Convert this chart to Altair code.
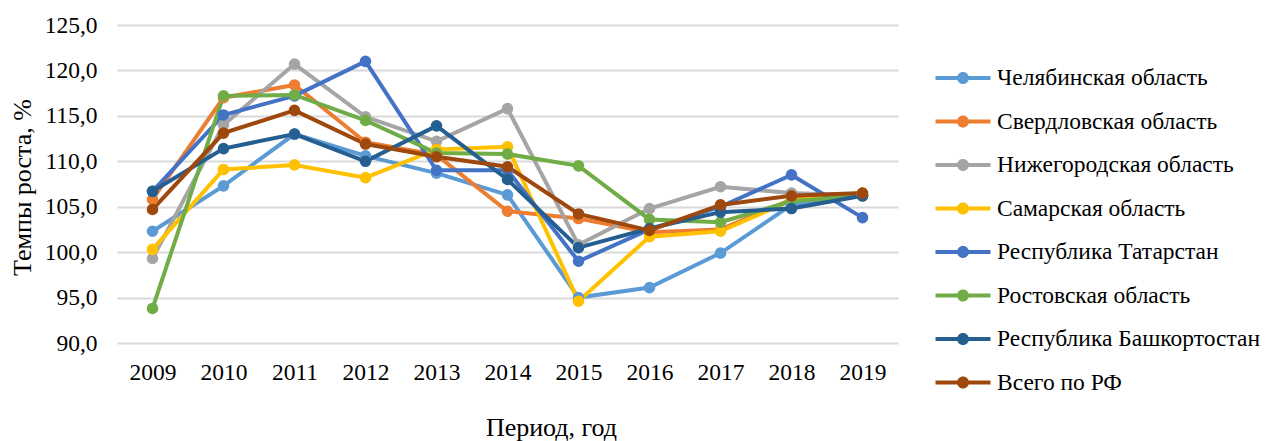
import altair as alt
import pandas as pd

years = ["2009", "2010", "2011", "2012", "2013", "2014", "2015", "2016", "2017", "2018", "2019"]
series = [
    "Челябинская область",
    "Свердловская область",
    "Нижегородская область",
    "Самарская область",
    "Республика Татарстан",
    "Ростовская область",
    "Республика Башкортостан",
    "Всего по РФ",
]
colors = ["#5B9BD5", "#ED7D31", "#A5A5A5", "#FFC000", "#4472C4", "#70AD47", "#255E91", "#9E480E"]

chelyabinsk = [102.3, 107.3, 113.0, 110.6, 108.7, 106.3, 95.0, 96.1, 99.9, 105.2, 106.2]
sverdlovsk = [105.8, 117.0, 118.4, 112.1, 110.7, 104.5, 103.7, 102.2, 102.5, 105.8, 106.3]
nizhny = [99.3, 114.0, 120.7, 114.9, 112.2, 115.8, 100.8, 104.8, 107.2, 106.5, 106.2]
samara = [100.3, 109.1, 109.6, 108.2, 111.3, 111.6, 94.6, 101.7, 102.3, 105.7, 106.5]
tatarstan = [106.7, 115.1, 117.2, 121.0, 109.0, 109.0, 99.0, 102.5, 105.0, 108.5, 103.8]
rostov = [93.8, 117.2, 117.3, 114.5, 110.9, 110.8, 109.5, 103.6, 103.3, 105.6, 106.2]
bashkortostan = [106.7, 111.4, 113.0, 110.0, 113.9, 108.0, 100.5, 102.6, 104.4, 104.8, 106.2]
russia = [104.7, 113.1, 115.6, 111.9, 110.5, 109.4, 104.2, 102.4, 105.2, 106.2, 106.5]

values = [chelyabinsk, sverdlovsk, nizhny, samara, tatarstan, rostov, bashkortostan, russia]
y_ticks = [90, 95, 100, 105, 110, 115, 120, 125]

rows = []
for i, (name, vals) in enumerate(zip(series, values)):
    for yr, v in zip(years, vals):
        rows.append({"Год": yr, "Регион": name, "Значение": v, "order": i})
df = pd.DataFrame(rows)

FONT = "Liberation Serif"
sym_path = ("M-1.375,-0.1H-0.25V0.1H-1.375Z M0.25,-0.1H1.375V0.1H0.25Z "
            "M0.3,0A0.3,0.3 0 1,1 -0.3,0A0.3,0.3 0 1,1 0.3,0Z")

x_enc = alt.X("Год:O", sort=years,
              axis=alt.Axis(title="Период, год", labelAngle=0, domain=False, ticks=False,
                            labelFont=FONT, labelFontSize=23.5, labelColor="#000000",
                            labelPadding=17, titleFont=FONT, titleFontSize=26,
                            titleFontWeight="normal", titleColor="#000000",
                            titleX=434, titleY=84, titleBaseline="middle"))
y_enc = alt.Y("Значение:Q", scale=alt.Scale(domain=[90, 125], nice=False, zero=False),
              axis=alt.Axis(title="Темпы роста, %", values=y_ticks, domain=False, ticks=False,
                            grid=True, gridColor="#D9D9D9", gridWidth=2,
                            labelExpr="replace(format(datum.value, '.1f'), '.', ',')",
                            labelFont=FONT, labelFontSize=23.5, labelColor="#000000",
                            labelPadding=20, titleFont=FONT, titleFontSize=26,
                            titleFontWeight="normal", titleColor="#000000",
                            titleX=-95, titleY=162, titleBaseline="middle", titleAngle=270))
color_enc = alt.Color("Регион:N", sort=series,
                      scale=alt.Scale(domain=series, range=colors),
                      legend=alt.Legend(title=None, orient="none", legendX=826, legendY=33,
                                        labelFont=FONT, labelFontSize=23.5))

lines = alt.Chart(df).mark_line(strokeWidth=4).encode(
    x=x_enc, y=y_enc, color=color_enc, order="order:Q"
)
points = alt.Chart(df).mark_circle(size=135, opacity=1).encode(
    x=x_enc, y=y_enc, color=color_enc
)

chart = alt.layer(lines, points).properties(
    width=781, height=318,
    autosize=alt.AutoSizeParams(type="none"),
    padding={"left": 109, "top": 17, "right": 365, "bottom": 100},
).configure(background="#FFFFFF", font=FONT).configure_view(stroke=None).configure_legend(
    symbolType=sym_path, symbolSize=1600, symbolStrokeWidth=0, labelOffset=14,
    labelFont=FONT, labelFontSize=23.5, labelColor="#000000", labelLimit=500,
    rowPadding=11.5, padding=0
)

chart.save("out.html", embed_options={"renderer": "svg", "actions": False})
